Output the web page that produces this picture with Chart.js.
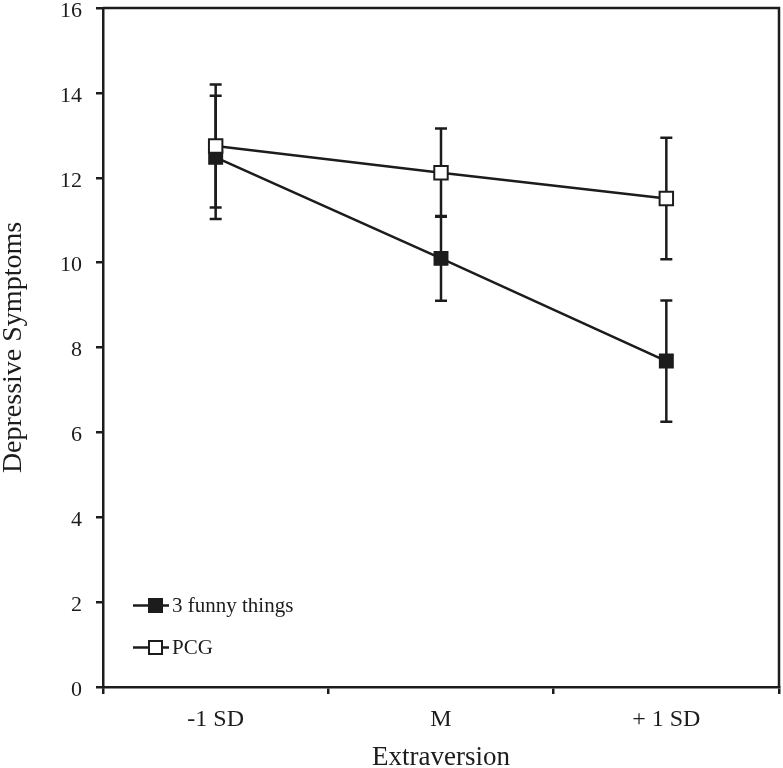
<!DOCTYPE html>
<html>
<head>
<meta charset="utf-8">
<script src="https://cdn.jsdelivr.net/npm/chart.js@4/dist/chart.umd.min.js"></script>
<style>
html,body{margin:0;padding:0;background:#fff;}
#wrap{width:783px;height:768px;position:relative;}
</style>
</head>
<body>
<div id="wrap"><canvas id="c" width="783" height="768"></canvas></div>
<script>
const categories = ['-1 SD', 'M', '+ 1 SD'];
const funnyMeans = [12.48, 10.10, 7.68];
const funnyErr = [1.45, 1.00, 1.43];
const pcgMeans = [12.75, 12.12, 11.51];
const pcgErr = [1.45, 1.04, 1.43];
const seriesNames = ['3 funny things', 'PCG'];
const yTicks = [0, 2, 4, 6, 8, 10, 12, 14, 16];

const INK = '#1c1c1c';
const FONT = "'Liberation Serif', 'DejaVu Serif', serif";

const errorBars = {
  id: 'errorBars',
  beforeDatasetsDraw(chart) {
    const ctx = chart.ctx;
    const x = chart.scales.x, y = chart.scales.y;
    const sets = [[funnyMeans, funnyErr], [pcgMeans, pcgErr]];
    ctx.save();
    ctx.strokeStyle = INK;
    ctx.lineWidth = 2.5;
    sets.forEach(([m, e]) => {
      m.forEach((v, i) => {
        const px = x.getPixelForValue(i);
        const top = y.getPixelForValue(v + e[i]);
        const bot = y.getPixelForValue(v - e[i]);
        ctx.beginPath();
        ctx.moveTo(px, top); ctx.lineTo(px, bot);
        ctx.moveTo(px - 6, top); ctx.lineTo(px + 6, top);
        ctx.moveTo(px - 6, bot); ctx.lineTo(px + 6, bot);
        ctx.stroke();
      });
    });
    ctx.restore();
  }
};

const frameAndLegend = {
  id: 'frameAndLegend',
  afterDraw(chart) {
    const ctx = chart.ctx;
    const a = chart.chartArea;
    ctx.save();
    ctx.strokeStyle = INK;
    ctx.lineWidth = 2.5;
    ctx.beginPath();
    ctx.moveTo(a.left, a.top);
    ctx.lineTo(a.right, a.top);
    ctx.lineTo(a.right, a.bottom);
    ctx.stroke();
    // legend
    const y = chart.scales.y;
    const rows = [
      {name: seriesNames[0], fill: INK, yv: 1.94},
      {name: seriesNames[1], fill: '#ffffff', yv: 0.94}
    ];
    rows.forEach(r => {
      const py = Math.round(y.getPixelForValue(r.yv)) + 0.5;
      ctx.lineWidth = 2.5;
      ctx.beginPath();
      ctx.moveTo(a.left + 30, py);
      ctx.lineTo(a.left + 66, py);
      ctx.stroke();
      ctx.fillStyle = r.fill;
      ctx.lineWidth = 2;
      ctx.fillRect(a.left + 46, py - 6.5, 13, 13);
      ctx.strokeRect(a.left + 46, py - 6.5, 13, 13);
      ctx.fillStyle = INK;
      ctx.font = "21px " + FONT;
      ctx.textBaseline = 'middle';
      ctx.textAlign = 'left';
      ctx.fillText(r.name, a.left + 69, py + 1);
    });
    ctx.restore();
  }
};

new Chart(document.getElementById('c'), {
  type: 'line',
  data: {
    labels: categories,
    datasets: [
      {
        label: seriesNames[0], data: funnyMeans, order: 1,
        borderColor: INK, borderWidth: 2.5,
        pointStyle: 'rect', pointRadius: 9.5, pointHoverRadius: 9.5,
        pointBackgroundColor: INK, pointBorderColor: INK, pointBorderWidth: 1.5,
        tension: 0
      },
      {
        label: seriesNames[1], data: pcgMeans, order: 0,
        borderColor: INK, borderWidth: 2.5,
        pointStyle: 'rect', pointRadius: 9.5, pointHoverRadius: 9.5,
        pointBackgroundColor: '#ffffff', pointBorderColor: INK, pointBorderWidth: 2,
        tension: 0
      }
    ]
  },
  options: {
    responsive: false,
    animation: false,
    events: [],
    layout: {autoPadding: false, padding: {top: 8, right: 4, left: 0, bottom: 0}},
    plugins: {legend: {display: false}, tooltip: {enabled: false}},
    scales: {
      x: {
        type: 'category',
        offset: true,
        border: {display: true, color: INK, width: 2.5},
        grid: {offset: true, drawOnChartArea: false, drawTicks: true, tickLength: 7, color: INK, lineWidth: 2.5},
        ticks: {color: INK, font: {family: FONT, size: 24}, padding: 11, maxRotation: 0},
        title: {display: true, text: 'Extraversion', color: INK, font: {family: FONT, size: 27}, padding: {top: 0, bottom: -6}},
        afterFit(s) { s.height = 81; s.paddingLeft = 0; s.paddingRight = 0; }
      },
      y: {
        min: 0, max: 16,
        afterBuildTicks(s) { s.ticks = yTicks.map(v => ({value: v})); },
        border: {display: true, color: INK, width: 2.5},
        grid: {drawOnChartArea: false, drawTicks: true, tickLength: 7, color: INK, lineWidth: 2.5},
        ticks: {color: INK, font: {family: FONT, size: 22}, padding: 14, labelOffset: 3},
        title: {display: true, text: 'Depressive Symptoms', color: INK, font: {family: FONT, size: 28}, padding: {top: -3, bottom: 0}},
        afterFit(s) { s.width = 103; s.paddingTop = 0; s.paddingBottom = 0; }
      }
    }
  },
  plugins: [errorBars, frameAndLegend]
});
</script>
</body>
</html>
